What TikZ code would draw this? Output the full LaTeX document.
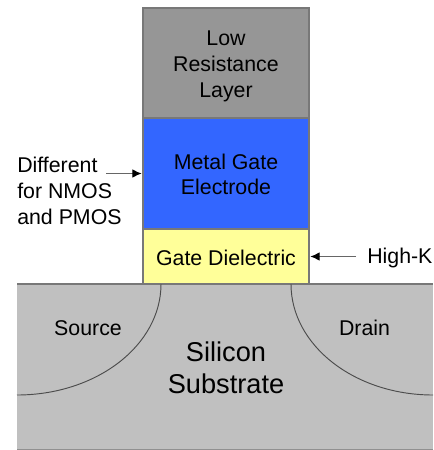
\documentclass[tikz,border=0pt]{standalone}
\usepackage{fontspec}
\usepackage{xcolor}
\usepackage{tikz}
\usetikzlibrary{positioning, arrows.meta}
\setmainfont{Liberation Sans}
\definecolor{lowgray}{HTML}{969696}
\definecolor{gateblue}{HTML}{3366FF}
\definecolor{dielyellow}{HTML}{FFFF99}
\definecolor{subgray}{HTML}{C0C0C0}
\definecolor{edgegray}{HTML}{787878}
\tikzset{
  layerbox/.style={
    draw=edgegray,
    line width=0.8pt,
    minimum width=124.5pt,
    outer sep=0pt,
    inner sep=0pt,
    align=center,
    font=\fontsize{16pt}{19.3pt}\selectfont
  },
  sidelabel/.style={
    inner sep=0pt,
    align=left,
    font=\fontsize{16pt}{19.3pt}\selectfont
  },
  callout/.style={
    draw=black!60,
    line width=0.8pt,
    shorten >=1pt,
    -{Latex[length=7pt,width=6.5pt,black]}
  }
}

\begin{document}
\begin{tikzpicture}[x=0.75pt, y=-0.75pt]
  \useasboundingbox (0,0) rectangle (433,450);
  % substrate
  \node[
    fill=subgray,
    draw=none,
    minimum width=312pt,
    minimum height=123.75pt,
    outer sep=0pt,
    inner sep=0pt,
    anchor=north west
  ] (substrate) at (17,284) {};
  \draw[edgegray, line width=0.8pt] (substrate.north west) -- (substrate.north east);
  \draw[black!25!subgray, line width=0.6pt] (substrate.south west) -- (substrate.south east);
  % gate stack
  \node[layerbox, fill=dielyellow, minimum height=41.25pt, text height=13pt, anchor=south west] (dielectric) at (143,284) {Gate Dielectric};
  \node[layerbox, fill=gateblue, minimum height=83.25pt, text height=32.3pt, above=0pt of dielectric] (metal) {Metal Gate\\Electrode};
  \node[layerbox, fill=lowgray, minimum height=82.5pt, text height=54.6pt, above=0pt of metal] (lowres) {Low\\Resistance\\Layer};
  % source and drain wells
  \coordinate (sourcetop) at (161,284);
  \coordinate (draintop) at (291,284);
  \draw[black!70, line width=0.7pt] (sourcetop) arc[start angle=0, end angle=-90, x radius=108pt, y radius=83.25pt];
  \draw[black!70, line width=0.7pt] (draintop) arc[start angle=180, end angle=270, x radius=106.5pt, y radius=83.25pt];
  \node[font=\fontsize{16pt}{19.3pt}\selectfont] (source) at (88,328) {Source};
  \node[font=\fontsize{16pt}{19.3pt}\selectfont] (drain) at (364.5,328) {Drain};
  \node[align=center, font=\fontsize{20.4pt}{24pt}\selectfont] (silicon) at (226,368) {Silicon\\Substrate};
  % labels
  \node[sidelabel, anchor=north west] (different) at (17,157) {Different\\for NMOS\\and PMOS};
  \coordinate (differenttail) at (106,173.5);
  \node[sidelabel, anchor=west, inner xsep=8.25pt, text height=14pt] (highk) at (356,256.5) {High-K};
  \draw[callout] (differenttail) -- (metal.west);
  \draw[callout] (highk.west) -- (dielectric.east);
\end{tikzpicture}
\end{document}
